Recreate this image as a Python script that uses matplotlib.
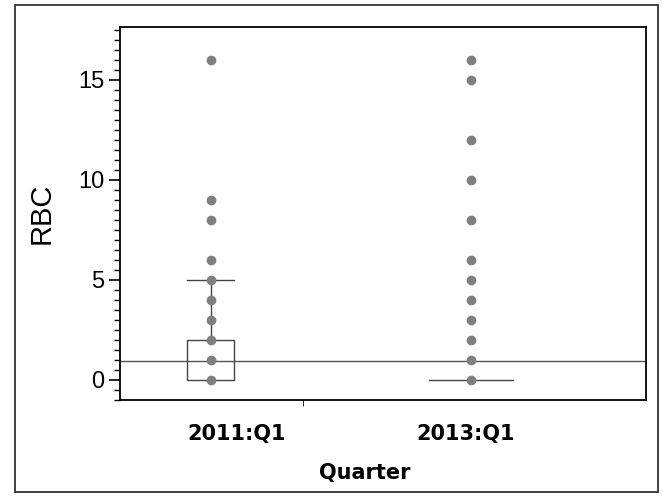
import matplotlib.pyplot as plt
from matplotlib.patches import Rectangle
from matplotlib.transforms import ScaledTranslation, blended_transform_factory
import numpy as np

# valeurs
quarters = ["2011:Q1", "2013:Q1"]
rbc_2011 = [0, 1, 2, 3, 4, 5, 6, 8, 9, 16]
rbc_2013 = [0, 1, 2, 3, 4, 5, 6, 8, 10, 12, 15, 16]
box_2011 = (0, 2, 5)      # q1, q3, moustache haute
box_2013 = (0, 0, 0)
mean_all = 0.95

fig = plt.figure(figsize=(6.62, 4.98), dpi=100)
ax = fig.add_axes([0.181, 0.197, 0.795, 0.749])

# cadre exterieur
fig.patches.append(Rectangle((15 / 662, 1 - 492 / 498), 643 / 662, 487 / 498,
                             transform=fig.transFigure, fill=False,
                             edgecolor='#333333', linewidth=1.3))

gris = '#7f7f7f'
ax.axhline(mean_all, color='#555555', linewidth=1.0, zorder=1)

# boite 2011
q1, q3, wh = box_2011
hw = 0.09
ax.add_patch(Rectangle((0 - hw, q1), 2 * hw, q3 - q1, fill=False,
                       edgecolor='#444444', linewidth=1.0, zorder=2))
ax.plot([0, 0], [q3, wh], color='#444444', linewidth=1.0, zorder=2)
ax.plot([-hw, hw], [wh, wh], color='#444444', linewidth=1.0, zorder=2)

# boite 2013 (aplatie a 0)
hw2 = 0.16
ax.plot([1 - hw2, 1 + hw2], [box_2013[0], box_2013[0]], color='#444444',
        linewidth=1.0, zorder=2)

ax.scatter(np.zeros(len(rbc_2011)), rbc_2011, s=36, color=gris, zorder=3)
ax.scatter(np.ones(len(rbc_2013)), rbc_2013, s=36, color=gris, zorder=3)

ax.set_xlim(-0.35, 1.673)
ax.set_ylim(-1, 17.65)
ax.set_xticks([0, 1])
ax.set_xticklabels([])
ax.set_xticks([0.354], minor=True)
ax.tick_params(axis='x', which='major', length=0)
ax.tick_params(axis='x', which='minor', length=4, direction='out')

# etiquettes des categories, decalees comme sur l'original
trans = blended_transform_factory(ax.transData, ax.transAxes)
for i, (q, dx) in enumerate(zip(quarters, [26, -5])):
    ax.text(i, 0, q, fontsize=15, fontweight='bold', ha='center', va='top',
            transform=trans + ScaledTranslation(dx / 100, -0.24, fig.dpi_scale_trans))

ax.set_yticks([0, 5, 10, 15])
ax.set_yticks(np.arange(-1, 17.6, 0.5), minor=True)
ax.tick_params(axis='y', which='major', length=8, width=1.2, labelsize=17, pad=3)
ax.tick_params(axis='y', which='minor', length=4, width=1.0)
for lab in ax.get_yticklabels():
    lab.set_family('Liberation Sans')

ax.set_xlabel("Quarter", fontsize=15, fontweight='bold')
ax.xaxis.set_label_coords(0.466, -0.168)
ax.set_ylabel("RBC", fontsize=21, family='Liberation Sans', labelpad=16)

for sp in ax.spines.values():
    sp.set_linewidth(1.3)

plt.savefig("out.png", dpi=100)
